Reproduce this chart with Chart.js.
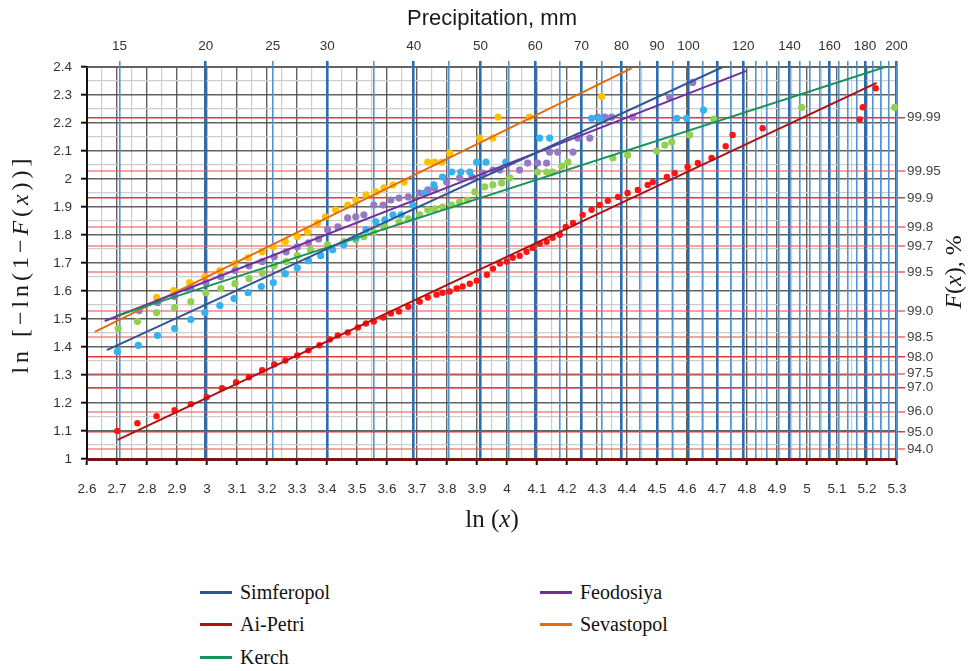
<!DOCTYPE html>
<html>
<head>
<meta charset="utf-8">
<title>Precipitation probability paper</title>
<script src="https://cdn.jsdelivr.net/npm/chart.js@4.4.1/dist/chart.umd.min.js"></script>
<style>
  html, body { margin: 0; padding: 0; background: #fff; }
  #wrap { position: relative; width: 973px; height: 671px; }
  #chartBox { position: absolute; left: 0; top: 0; width: 973px; height: 560px; }
  #legend {
    position: absolute; left: 200px; top: 576px;
    display: grid; grid-template-columns: 340px 220px; grid-auto-rows: 32.5px;
    font-family: "Liberation Serif", "Times New Roman", serif; font-size: 20px; color: #111;
  }
  .item { display: flex; align-items: center; }
  .sw { width: 32px; height: 3px; margin-right: 8px; }
</style>
</head>
<body>
<div id="wrap">
  <div id="chartBox"><canvas id="chart"></canvas></div>
  <div id="legend"></div>
</div>
<script>
// ── Axes ──────────────────────────────────────
const lnMin = 2.6, lnMax = 5.3;
const yMin = 1, yMax = 2.4;
// precipitation (mm) where blue lines are drawn / labelled on top axis
const precipLines  = [15,20,25,30,35,40,45,50,55,60,65,70,75,80,85,90,95,100,105,110,115,120,125,130,135,140,145,150,155,160,165,170,175,180,185,190,195,200];
const precipLabels = [15,20,25,30,40,50,60,70,80,90,100,120,140,160,180,200];
const precipThick  = [20,30,40,50,60,70,80,90,100,110,120,140,160,180,200];
// F(x), % on right axis
const probLabels = ['99.99','99.95','99.9','99.8','99.7','99.5','99.0','98.5','98.0','97.5','97.0','96.0','95.0','94.0'];
const probStrong = ['99.99','99.9','98.0','97.0','95.0'];

// ── Data: [ln(x), ln(-ln(1-F))] ───────────────
const simferopolPts = [
  [2.701,1.384],[2.771,1.406],[2.835,1.441],[2.892,1.466],[2.946,1.498],[2.993,1.523],[3.043,1.548],
  [3.090,1.573],[3.137,1.594],[3.181,1.616],[3.221,1.630],[3.261,1.662],[3.301,1.683],[3.338,1.708],
  [3.379,1.726],[3.419,1.747],[3.456,1.765],[3.496,1.790],[3.530,1.819],[3.563,1.847],[3.593,1.854],
  [3.620,1.872],[3.647,1.872],[3.686,1.907],[3.726,1.950],[3.756,1.979],[3.785,2.007],[3.816,2.025],
  [3.846,2.025],[3.876,2.025],[3.899,2.060],[3.930,2.060],[3.996,2.060],[4.109,2.146],[4.142,2.146],
  [4.282,2.217],[4.309,2.217],[4.566,2.217],[4.599,2.217],[4.655,2.246]
];
const simferopolLine = [[2.666,1.389],[4.719,2.400]];

const aiPetriPts = [
  [2.701,1.100],[2.768,1.128],[2.832,1.153],[2.892,1.174],[2.946,1.196],[2.999,1.221],[3.050,1.253],
  [3.097,1.274],[3.140,1.292],[3.184,1.317],[3.224,1.338],[3.261,1.352],[3.301,1.370],[3.338,1.388],
  [3.375,1.406],[3.409,1.427],[3.436,1.441],[3.469,1.452],[3.503,1.470],[3.530,1.484],[3.556,1.491],
  [3.587,1.505],[3.613,1.520],[3.640,1.527],[3.671,1.544],[3.709,1.562],[3.736,1.577],[3.765,1.587],
  [3.785,1.594],[3.809,1.598],[3.832,1.609],[3.852,1.616],[3.876,1.626],[3.899,1.637],[3.933,1.658],
  [3.953,1.680],[3.976,1.698],[3.999,1.705],[4.019,1.719],[4.042,1.726],[4.065,1.740],[4.085,1.754],
  [4.109,1.769],[4.132,1.776],[4.152,1.790],[4.176,1.801],[4.196,1.829],[4.220,1.843],[4.252,1.872],
  [4.282,1.890],[4.309,1.907],[4.336,1.922],[4.370,1.936],[4.402,1.950],[4.436,1.961],[4.469,1.979],
  [4.486,1.989],[4.533,2.007],[4.559,2.021],[4.602,2.043],[4.636,2.057],[4.682,2.075],[4.729,2.117],
  [4.752,2.157],[4.852,2.181],[5.176,2.213],[5.186,2.256],[5.229,2.324]
];
const aiPetriLine = [[2.702,1.068],[5.232,2.343]];

const kerchPts = [
  [2.704,1.466],[2.768,1.491],[2.832,1.523],[2.892,1.541],[2.946,1.562],[2.996,1.594],[3.046,1.609],
  [3.093,1.626],[3.140,1.644],[3.184,1.665],[3.224,1.690],[3.264,1.705],[3.301,1.726],[3.345,1.747],
  [3.402,1.765],[3.456,1.776],[3.496,1.783],[3.523,1.794],[3.556,1.811],[3.590,1.829],[3.640,1.847],
  [3.671,1.858],[3.709,1.872],[3.736,1.890],[3.759,1.893],[3.785,1.900],[3.816,1.907],[3.842,1.918],
  [3.869,1.925],[3.893,1.954],[3.926,1.972],[3.953,1.979],[3.982,1.986],[4.009,2.004],[4.102,2.025],
  [4.132,2.025],[4.152,2.025],[4.183,2.046],[4.203,2.060],[4.353,2.075],[4.402,2.085],[4.499,2.100],
  [4.526,2.121],[4.549,2.132],[4.609,2.157],[4.689,2.214],[4.982,2.256],[5.292,2.256]
];
const kerchLine = [[2.704,1.514],[5.272,2.404]];

const feodosiyaPts = [
  [2.774,1.530],[2.835,1.559],[2.892,1.580],[2.946,1.609],[2.996,1.630],[3.046,1.651],[3.093,1.673],
  [3.140,1.690],[3.184,1.705],[3.224,1.722],[3.264,1.740],[3.301,1.758],[3.338,1.772],[3.372,1.786],
  [3.402,1.819],[3.436,1.829],[3.469,1.861],[3.496,1.865],[3.523,1.872],[3.556,1.907],[3.587,1.907],
  [3.613,1.925],[3.640,1.932],[3.671,1.936],[3.709,1.950],[3.736,1.961],[3.758,1.968],[3.799,1.989],
  [3.842,2.004],[3.883,2.007],[3.920,2.021],[3.953,2.032],[3.976,2.032],[4.042,2.032],[4.069,2.057],
  [4.102,2.057],[4.132,2.057],[4.142,2.096],[4.169,2.096],[4.220,2.096],[4.236,2.146],[4.276,2.146],
  [4.302,2.221],[4.326,2.221],[4.349,2.221],[4.419,2.221],[4.542,2.292],[4.619,2.345]
];
const feodosiyaLine = [[2.659,1.493],[4.798,2.386]];

const sevastopolPts = [
  [2.832,1.577],[2.889,1.601],[2.942,1.630],[2.993,1.651],[3.043,1.673],[3.093,1.698],[3.137,1.719],
  [3.184,1.740],[3.221,1.758],[3.261,1.776],[3.301,1.794],[3.335,1.811],[3.368,1.843],[3.395,1.865],
  [3.429,1.890],[3.469,1.907],[3.496,1.925],[3.530,1.943],[3.563,1.954],[3.590,1.968],[3.620,1.979],
  [3.657,1.989],[3.736,2.060],[3.759,2.060],[3.783,2.060],[3.809,2.093],[3.909,2.146],[3.953,2.146],
  [3.970,2.221],[4.075,2.221],[4.316,2.295]
];
const sevastopolLine = [[2.626,1.454],[4.416,2.396]];

// ── Series table ──────────────────────────────
const series = [
  { name: 'Simferopol', pts: simferopolPts, line: simferopolLine, dot: '#33b3ee', col: '#2f5597', r: 3.6 },
  { name: 'Ai-Petri',   pts: aiPetriPts,    line: aiPetriLine,    dot: '#ff1414', col: '#b01010', r: 3.2 },
  { name: 'Kerch',      pts: kerchPts,      line: kerchLine,      dot: '#92d050', col: '#16935a', r: 3.6 },
  { name: 'Feodosiya',  pts: feodosiyaPts,  line: feodosiyaLine,  dot: '#9579c4', col: '#7030a0', r: 3.6 },
  { name: 'Sevastopol', pts: sevastopolPts, line: sevastopolLine, dot: '#ffc000', col: '#e46c0a', r: 3.6 }
];
const legendOrder = ['Simferopol', 'Feodosiya', 'Ai-Petri', 'Sevastopol', 'Kerch'];

// ── Helpers ───────────────────────────────────
const NARROW = '"Liberation Sans Narrow", "Liberation Sans", Arial, sans-serif';
const SERIF  = '"Liberation Serif", "Times New Roman", serif';
const GRID_MAJOR = 'rgba(70,70,70,0.85)';
const GRID_MINOR = '#cdcdcd';

const isMajor = v => Math.round(v * 20) % 2 === 0;
const fmt1 = v => String(+v.toFixed(1));
function halfSteps(a, b) {
  const out = [];
  for (let k = Math.round(a * 20); k <= Math.round(b * 20); k++) out.push({ value: k / 20 });
  return out;
}
const probToY = p => Math.log(-Math.log(1 - parseFloat(p) / 100));

function drawRich(ctx, parts, cx, cy, angle, size, target) {
  const chars = [];
  parts.forEach(([txt, it]) => { for (const ch of txt) chars.push([ch, it]); });
  const font = it => `${it ? 'italic ' : ''}${size}px ${SERIF}`;
  ctx.save();
  ctx.translate(cx, cy);
  ctx.rotate(angle);
  ctx.textBaseline = 'middle';
  ctx.textAlign = 'left';
  let natural = 0;
  chars.forEach(([ch, it]) => { ctx.font = font(it); natural += ctx.measureText(ch).width; });
  const gap = target ? Math.max(0, (target - natural) / (chars.length - 1)) : 0;
  let x = -(natural + gap * (chars.length - 1)) / 2;
  chars.forEach(([ch, it]) => {
    ctx.font = font(it);
    ctx.fillText(ch, x, 0);
    x += ctx.measureText(ch).width + gap;
  });
  ctx.restore();
}

const titlesPlugin = {
  id: 'titles',
  afterDraw(chart) {
    const { ctx, chartArea: a } = chart;
    const cx = (a.left + a.right) / 2;
    ctx.save();
    ctx.fillStyle = '#1a1a1a';
    ctx.font = '22px "Liberation Sans", Arial, sans-serif';
    ctx.textAlign = 'center';
    ctx.textBaseline = 'middle';
    ctx.fillText('Precipitation, mm', cx, 19);
    drawRich(ctx, [['ln (', false], ['x', true], [')', false]], cx, 520, 0, 25);
    drawRich(ctx, [['ln [−ln(1−', false], ['F', true], ['(', false], ['x', true], ['))]', false]],
             22, 266, -Math.PI / 2, 24, 215);
    drawRich(ctx, [['F', true], ['(', false], ['x', true], ['), %', false]],
             955, 272, -Math.PI / 2, 24);
    ctx.restore();
  }
};

// ── Datasets ──────────────────────────────────
const datasets = [];
series.forEach(s => {
  datasets.push({
    label: s.name + ' trend', type: 'line', data: s.line,
    borderColor: s.col, borderWidth: 2, pointRadius: 0, fill: false, order: 1
  });
  datasets.push({
    label: s.name, type: 'scatter', data: s.pts,
    backgroundColor: s.dot, borderColor: s.dot, borderWidth: 0,
    pointRadius: s.r, pointHoverRadius: s.r, order: 2, clip: false
  });
});

// ── Chart ─────────────────────────────────────
new Chart(document.getElementById('chart'), {
  type: 'scatter',
  data: { datasets },
  plugins: [titlesPlugin],
  options: {
    responsive: true, maintainAspectRatio: false, animation: false,
    layout: { padding: 0 },
    plugins: { legend: { display: false }, tooltip: { enabled: false } },
    scales: {
      x: {
        type: 'linear', position: 'bottom', min: lnMin, max: lnMax,
        afterBuildTicks: sc => { sc.ticks = halfSteps(lnMin, lnMax); },
        afterFit: sc => { sc.height = 101; },
        ticks: {
          autoSkip: false, maxRotation: 0, padding: 16, color: '#333',
          font: { family: NARROW, size: 13.5 },
          callback: v => isMajor(v) ? fmt1(v) : ''
        },
        grid: {
          color: c => (c.tick && isMajor(c.tick.value)) ? GRID_MAJOR : GRID_MINOR,
          lineWidth: c => (c.tick && isMajor(c.tick.value)) ? 1.4 : 1.2,
          tickLength: 6, tickWidth: 2,
          tickColor: c => (c.tick && isMajor(c.tick.value)) ? '#111' : 'rgba(0,0,0,0)'
        },
        border: { color: '#7a1414', width: 3 }
      },
      y: {
        type: 'linear', position: 'left', min: yMin, max: yMax,
        afterBuildTicks: sc => { sc.ticks = halfSteps(yMin, yMax); },
        afterFit: sc => { sc.width = 87; },
        ticks: {
          autoSkip: false, padding: 9, color: '#333',
          font: { family: NARROW, size: 13.5 },
          callback: v => isMajor(v) ? fmt1(v) : ''
        },
        grid: {
          color: c => (c.tick && isMajor(c.tick.value)) ? GRID_MAJOR : GRID_MINOR,
          lineWidth: c => (c.tick && isMajor(c.tick.value)) ? 1.4 : 1.2,
          tickLength: 6, tickWidth: 2,
          tickColor: c => (c.tick && isMajor(c.tick.value)) ? '#111' : 'rgba(0,0,0,0)'
        },
        border: { color: '#111', width: 2 }
      },
      x2: {
        type: 'linear', position: 'top', min: lnMin, max: lnMax,
        afterBuildTicks: sc => { sc.ticks = precipLines.map(v => ({ value: Math.log(v) })); },
        afterFit: sc => { sc.height = 67; },
        ticks: {
          autoSkip: false, maxRotation: 0, padding: 7, color: '#333',
          font: { family: NARROW, size: 13.5 },
          callback: (v, i) => precipLabels.includes(precipLines[i]) ? String(precipLines[i]) : ''
        },
        grid: {
          color: c => precipThick.includes(precipLines[c.index]) ? '#2a6db3' : '#4f95d6',
          lineWidth: c => precipThick.includes(precipLines[c.index]) ? 2.6 : 1.6,
          tickLength: 6,
          tickColor: c => precipThick.includes(precipLines[c.index]) ? '#2a6db3' : '#4f95d6'
        },
        border: { color: '#666', width: 1 }
      },
      y2: {
        type: 'linear', position: 'right', min: yMin, max: yMax,
        afterBuildTicks: sc => { sc.ticks = probLabels.map(p => ({ value: probToY(p) })); },
        afterFit: sc => { sc.width = 76; },
        ticks: {
          autoSkip: false, padding: 2, color: '#444',
          font: { family: NARROW, size: 13.5 },
          callback: (v, i) => probLabels[i]
        },
        grid: {
          color: c => probStrong.includes(probLabels[c.index]) ? '#e23a3a' : 'rgba(236,90,90,0.55)',
          lineWidth: c => probStrong.includes(probLabels[c.index]) ? 1.5 : 2,
          tickLength: 8,
          tickColor: c => probStrong.includes(probLabels[c.index]) ? '#e23a3a' : 'rgba(236,90,90,0.7)'
        },
        border: { color: '#4f95d6', width: 1.5 }
      }
    }
  }
});

// ── Legend (trend lines only) ─────────────────
const legendEl = document.getElementById('legend');
legendOrder.forEach(name => {
  const s = series.find(v => v.name === name);
  const item = document.createElement('div');
  item.className = 'item';
  item.innerHTML = `<span class="sw" style="background:${s.col}"></span><span>${s.name}</span>`;
  legendEl.appendChild(item);
});
</script>
</body>
</html>
